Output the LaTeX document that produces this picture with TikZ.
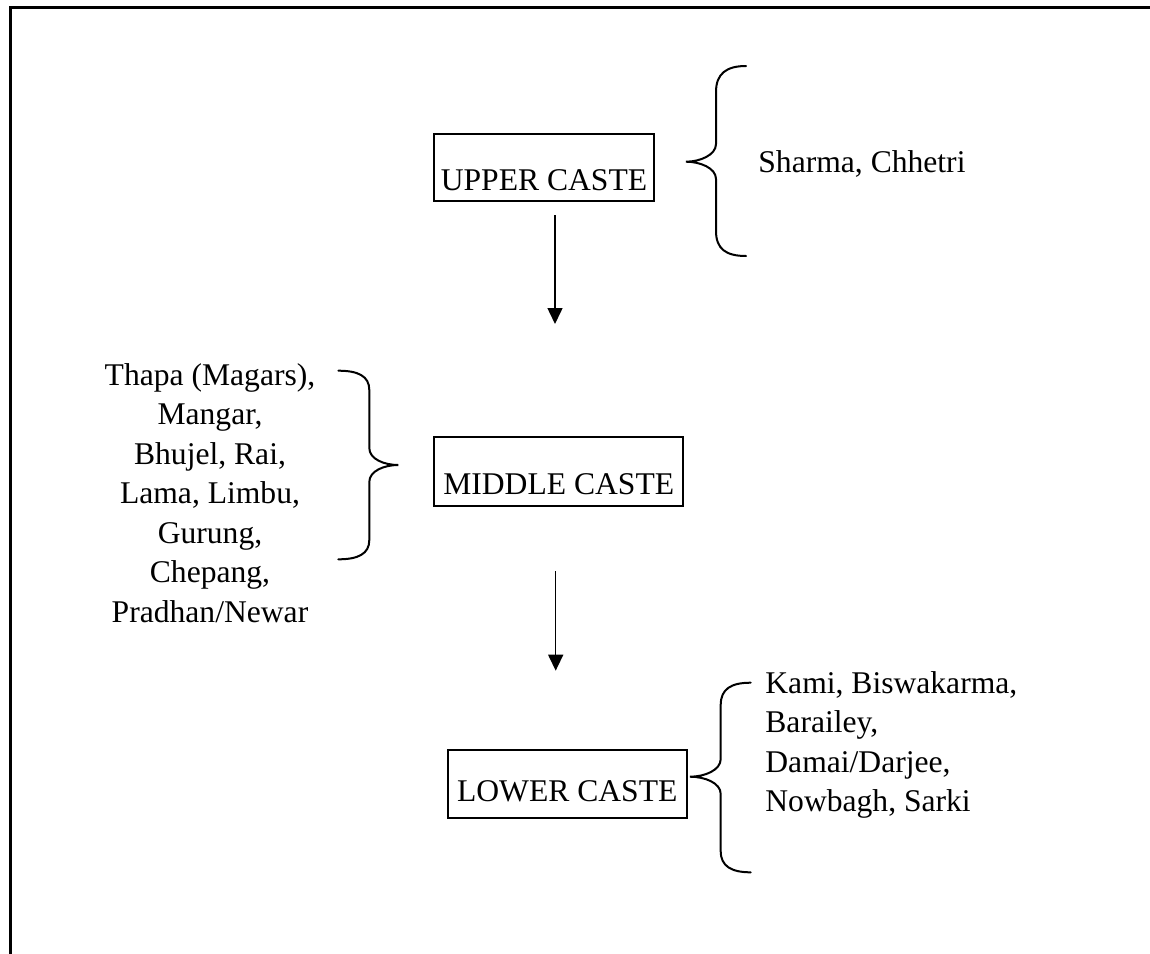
\documentclass[tikz,border=0pt]{standalone}
\usepackage{fontspec}
\setmainfont{Liberation Serif}
\usetikzlibrary{arrows.meta,calc}

% one unit = one pixel of the page grid, y runs downwards
\tikzset{
  x=0.5pt, y=-0.5pt,
  txt/.style={font=\fontsize{15.8pt}{19.75pt}\selectfont, inner sep=0pt},
  castebox/.style={txt, draw, line width=1pt, inner xsep=0pt, inner ysep=0pt, anchor=base},
  names/.style={txt},
  flow/.style={line width=0.75pt, -{Triangle[length=8pt,width=7.5pt]}},
  brace/.style={line width=1pt, line cap=round},
  frame/.style={line width=1.25pt},
}

\begin{document}
\begin{tikzpicture}
\useasboundingbox (0,0) rectangle (1150,953);

% page frame (only its top and left edges are on the sheet)
\draw[frame] (10.5,970) -- (10.5,7.5) -- (1170,7.5);

% the three caste boxes
\node[castebox, minimum width=110pt, text height=28pt, text depth=5.5pt]
  (upper) at (544,190) {UPPER CASTE};
\node[castebox, minimum width=124.4pt, text height=28.65pt, text depth=6pt]
  (middle) at (558.7,494) {MIDDLE CASTE};
\node[castebox, minimum width=119.5pt, text height=25.5pt, text depth=8.65pt]
  (lower) at (567.2,801) {LOWER CASTE};

% arrows between the levels
\draw[flow] ($(upper.south)+(11,13)$) -- ($(middle.north)+(-3.7,-111.7)$);
\draw[flow] ($(middle.south)+(-3,64)$) -- ($(lower.north)+(-11.5,-78.3)$);

% member lists
\node[names, anchor=base west] (upperlist) at (758,172.7) {Sharma, Chhetri};
\node[names, anchor=north, align=center] (middlelist) at (210,357.35)
  {\strut Thapa (Magars),\\Mangar,\\Bhujel, Rai,\\Lama, Limbu,\\Gurung,\\Chepang,\\Pradhan/Newar};
\node[names, anchor=north west, align=left] (lowerlist) at (765,665.05)
  {\strut Kami, Biswakarma,\\Barailey,\\Damai/Darjee,\\Nowbagh, Sarki};

% braces
% upper: opening to the right, tip pointing at the box
\coordinate (ubtip) at (686,161.7);
\draw[brace] (746,66) .. controls (726,66) and (716,74) .. (716,92)
  -- (716,144) .. controls (716,155) and (700,161.7) .. (ubtip)
  .. controls (700,161.7) and (716,168) .. (716,179)
  -- (716,231) .. controls (716,249) and (726,256) .. (746,256);

% middle: opening to the left, tip pointing at the box
\coordinate (mbtip) at (398.3,465);
\draw[brace] (338.3,370.7) .. controls (358,370.7) and (369.3,376) .. (369.3,390)
  -- (369.3,448) .. controls (369.3,459) and (384,465) .. (mbtip)
  .. controls (384,465) and (369.3,471) .. (369.3,482)
  -- (369.3,540) .. controls (369.3,554) and (358,559.3) .. (338.3,559.3);

% lower: opening to the right, tip pointing at the box
\coordinate (lbtip) at (690,776.7);
\draw[brace] (750.7,682.7) .. controls (731,682.7) and (720.7,689) .. (720.7,705)
  -- (720.7,759) .. controls (720.7,770) and (705,776.7) .. (lbtip)
  .. controls (705,776.7) and (720.7,783) .. (720.7,794)
  -- (720.7,851) .. controls (720.7,866) and (731,872.3) .. (750.7,872.3);
\end{tikzpicture}
\end{document}
